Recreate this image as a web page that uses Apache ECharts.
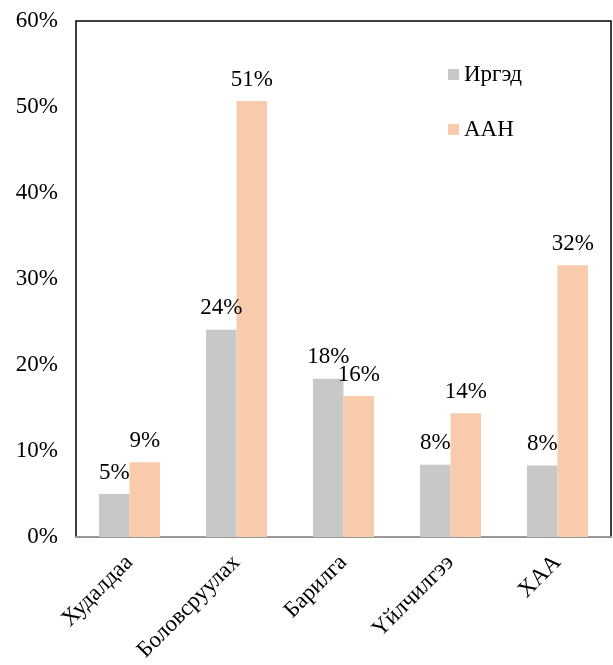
<!DOCTYPE html>
<html><head><meta charset="utf-8">
<script src="https://cdn.jsdelivr.net/npm/echarts@6/dist/echarts.min.js"></script>
<style>html,body{margin:0;padding:0;background:#fff}#c{width:613px;height:665px}</style>
</head><body><div id="c"></div>
<script>
const categories = ['Худалдаа', 'Боловсруулах', 'Барилга', 'Үйлчилгээ', 'ХАА'];
const irgedValues = [5.0, 24.1, 18.4, 8.4, 8.3];
const aanValues = [8.7, 50.7, 16.4, 14.4, 31.6];
const seriesNames = ['Иргэд', 'ААН'];
const yTicks = { min: 0, max: 60, interval: 10 };
const font = 'Liberation Serif';
const chart = echarts.init(document.getElementById('c'));
const lbl = {
  show: true, position: 'top', distance: 10,
  fontFamily: font, fontSize: 23, color: '#000',
  formatter: p => Math.round(p.value) + '%'
};
chart.setOption({
  animation: false,
  textStyle: { fontFamily: font },
  grid: { left: 76, right: 2, top: 21, bottom: 128, show: true, borderColor: '#000', borderWidth: 1.5 },
  legend: {
    orient: 'vertical', left: 443, top: 58, itemGap: 32,
    itemWidth: 11, itemHeight: 11, icon: 'rect',
    textStyle: { fontFamily: font, fontSize: 23, color: '#000' }
  },
  xAxis: {
    type: 'category', data: categories,
    axisLine: { lineStyle: { color: '#999', width: 2 } },
    axisTick: { show: false },
    axisLabel: { rotate: 45, margin: 22, fontFamily: font, fontSize: 23, color: '#000', interval: 0 }
  },
  yAxis: {
    type: 'value', min: yTicks.min, max: yTicks.max, interval: yTicks.interval,
    axisLine: { show: false }, axisTick: { show: false }, splitLine: { show: false },
    axisLabel: { formatter: '{value}%', margin: 18, fontFamily: font, fontSize: 23, color: '#000' }
  },
  series: [
    { name: seriesNames[0], type: 'bar', data: irgedValues, barGap: '0%', barCategoryGap: '43%',
      itemStyle: { color: '#C8C8C8' }, label: lbl },
    { name: seriesNames[1], type: 'bar', data: aanValues,
      itemStyle: { color: '#F8CBAD' }, label: lbl }
  ]
});
</script></body></html>
